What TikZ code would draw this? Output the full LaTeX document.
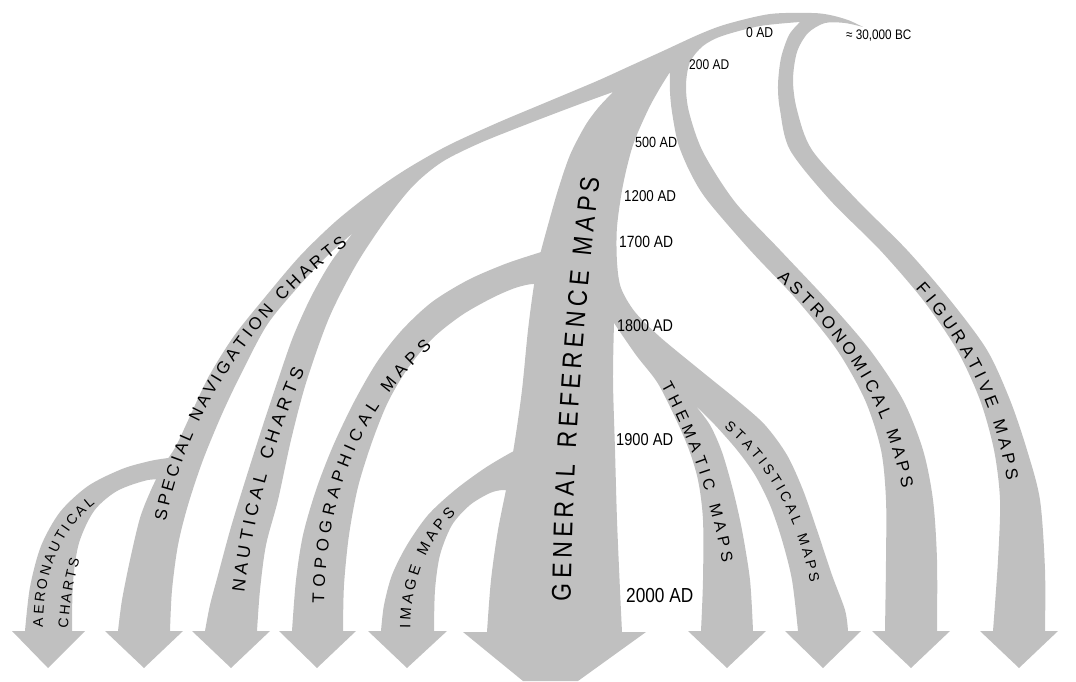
\documentclass[tikz,border=0pt]{standalone}
\usepackage{fontspec}
\setmainfont{Liberation Sans}
\newfontfamily\datefont[FakeStretch=0.85]{Liberation Sans}
\newfontfamily\grmfont[FakeStretch=0.85]{Liberation Sans}
\usetikzlibrary{decorations.text}
\definecolor{bandgray}{RGB}{192,192,192}
\begin{document}
\begin{tikzpicture}[x=1pt,y=-1pt,
  band/.style={fill=bandgray,draw=none},
  datelabel/.style={anchor=west,inner sep=0pt,font=\datefont\fontsize{#1}{#1}\selectfont},
  bandtext/.style={decorate,decoration={text along path,text align=fit to path,raise=#1}}
]
\useasboundingbox (0,0) rectangle (1076,681);

% ---------- main stream: trunk with navigation, nautical, general reference,
% ---------- thematic/statistical, astronomical and figurative branches
\fill[band]
  plot[smooth] coordinates {(863,27) (848,20) (830,15) (812,13) (770,14) (727,24) (700,34) (663,51) (630,66) (597,81) (547,102) (497,123) (447,146) (405,170) (370,194) (335,222) (300,256) (266,296) (234,336) (209,376) (191,414) (176,446) (162,468) (151,490) (140,518) (130,560) (122,600) (118,631)}
  -- (105,631) -- (144,668) -- (183,631) -- (170,631)
  -- plot[smooth] coordinates {(170,631) (172,590) (178,545) (188,505) (203,460) (222,414) (241,374) (267,325) (298,287) (327,256) (353,233)}
  -- plot[smooth] coordinates {(353,233) (331,262) (311,297) (293,337) (278,380) (263,425) (247,475) (231,527) (218,575) (210,605) (205,631)}
  -- (192,631) -- (231,668) -- (270,631) -- (257,631)
  -- plot[smooth] coordinates {(257,631) (260,590) (266,545) (278,500) (291,440) (306,383) (329,318) (356,265) (385,221) (413,186) (442,162) (480,143) (530,123) (580,104) (613,92)}
  -- plot[smooth] coordinates {(613,92) (598,108) (585,126) (570,155) (558,190) (548,225) (540,255) (534,285) (528,330) (522,390) (515,440) (508,480) (498,530) (491,580) (487,632)}
  -- (463,632) -- (523,681) -- (578,681) -- (646,632) -- (622,632)
  -- plot[smooth] coordinates {(622,632) (620,590) (617,520) (615,450) (613,380) (614,323)}
  -- plot[smooth] coordinates {(614,323) (636,355) (657,382) (673,413) (688,447) (698,480) (703,520) (703,580) (701,631)}
  -- (688,631) -- (727,668) -- (766,631) -- (753,631)
  -- plot[smooth] coordinates {(753,631) (750,580) (742,530) (733,490) (722,452) (710,425) (695,405)}
  -- plot[smooth] coordinates {(695,405) (715,425) (737,450) (755,475) (770,505) (782,540) (792,580) (798,631)}
  -- (785,631) -- (823,668) -- (861,631) -- (848,631)
  -- plot[smooth] coordinates {(848,631) (845,610) (832,575) (817,530) (803,490) (787,455) (765,425) (737,400) (700,370) (660,337) (635,312) (621,288) (617,262) (617,227) (623,185) (633,145) (648,110) (660,88) (670,72)}
  -- plot[smooth] coordinates {(670,72) (670,92) (672,112) (678,143) (690,172) (707,200) (750,250) (797,300) (837,350) (865,400) (881,450) (886,500) (886,560) (885,631)}
  -- (872,631) -- (911,668) -- (950,631) -- (937,631)
  -- plot[smooth] coordinates {(937,631) (937,560) (933,500) (923,450) (903,400) (870,350) (827,300) (780,250) (735,202) (703,152) (689,112) (686,85) (690,62) (703,46) (722,36) (760,26) (800,22)}
  -- plot[smooth] coordinates {(800,22) (789,35) (781,58) (778,85) (780,110) (790,150) (830,200) (880,250) (923,300) (957,350) (980,400) (994,450) (1000,500) (998,560) (993,631)}
  -- (980,631) -- (1019,668) -- (1058,631) -- (1045,631)
  -- plot[smooth] coordinates {(1045,631) (1045,570) (1040,500) (1027,450) (1010,400) (987,350) (950,300) (907,250) (857,200) (812,150) (797,110) (793,80) (797,52) (808,33) (825,23) (845,23) (863,27)}
  -- cycle;

% aeronautical charts, leaving the navigation branch
\fill[band]
  plot[smooth] coordinates {(180,456) (168,458) (150,461) (122,469) (88,486) (60,512) (41,546) (30,587) (25,631)}
  -- (12,631) -- (48,668) -- (85,631) -- (72,631)
  -- plot[smooth] coordinates {(72,631) (73,582) (79,543) (94,511) (117,491) (148,480) (170,480)}
  -- cycle;

% topographical maps, leaving the general reference stream
\fill[band]
  plot[smooth] coordinates {(548,250) (538,253) (505,264) (468,280) (432,302) (402,330) (377,362) (354,402) (333,446) (316,490) (303,535) (296,580) (292,631)}
  -- (279,631) -- (317,668) -- (356,631) -- (343,631)
  -- plot[smooth] coordinates {(343,631) (344,585) (349,535) (358,487) (372,442) (388,402) (408,368) (433,338) (462,315) (492,298) (515,288) (532,284) (545,285)}
  -- cycle;

% image maps
\fill[band]
  plot[smooth] coordinates {(522,448) (512,452) (485,468) (455,490) (428,515) (407,545) (392,575) (384,605) (381,631)}
  -- (368,631) -- (407,668) -- (447,631) -- (434,631)
  -- plot[smooth] coordinates {(434,631) (435,590) (440,555) (452,525) (470,505) (490,493) (503,490) (512,492)}
  -- cycle;

% ---------- stream names
\path[bandtext=-6.1pt,decoration={text={|\fontsize{17}{17}\selectfont|SPECIAL NAVIGATION CHARTS}}]
  (160,520) .. controls (178,420) and (246,310) .. (344,240);
\path[bandtext=-5pt,decoration={text={|\fontsize{14}{14}\selectfont|AERONAUTICAL}}]
  (38,627) .. controls (38,570) and (57,527) .. (92,500);
\path[bandtext=-5pt,decoration={text={|\fontsize{14}{14}\selectfont|CHARTS}}]
  (63,628) .. controls (65,600) and (69,577) .. (75,558);
\path[bandtext=-6.4pt,decoration={text={|\fontsize{18}{18}\selectfont|NAUTICAL CHARTS}}]
  (238,592) .. controls (246,520) and (266,440) .. (299,368);
\path[bandtext=-6.1pt,decoration={text={|\fontsize{17}{17}\selectfont|TOPOGRAPHICAL MAPS}}]
  (318,603) .. controls (320,500) and (350,410) .. (428,343);
\path[bandtext=-5.4pt,decoration={text={|\fontsize{15}{15}\selectfont|IMAGE MAPS}}]
  (405,628) .. controls (405,585) and (420,540) .. (452,510);
\path[bandtext=-9.7pt,decoration={text={|\grmfont\fontsize{27}{27}\selectfont|GENERAL REFERENCE MAPS}}]
  (561,601) .. controls (563,450) and (575,300) .. (590,177);
\path[bandtext=-5.7pt,decoration={text={|\fontsize{16}{16}\selectfont|THEMATIC MAPS}}]
  (666,383) .. controls (692,430) and (715,490) .. (728,562);
\path[bandtext=-5pt,decoration={text={|\fontsize{14}{14}\selectfont|STATISTICAL MAPS}}]
  (727,424) .. controls (765,455) and (800,505) .. (815,582);
\path[bandtext=-6.1pt,decoration={text={|\fontsize{17}{17}\selectfont|ASTRONOMICAL MAPS}}]
  (781,274) .. controls (835,322) and (888,385) .. (908,487);
\path[bandtext=-6.1pt,decoration={text={|\fontsize{17}{17}\selectfont|FIGURATIVE MAPS}}]
  (920,285) .. controls (960,330) and (1000,395) .. (1013,480);

% ---------- dates
\node[datelabel=13.8] (bc)   at (846,36)  {≈ 30,000 BC};
\node[datelabel=14.3] (ad0)  at (746,33)  {0 AD};
\node[datelabel=14.1] (ad200) at (689,65) {200 AD};
\node[datelabel=14.8] (ad500) at (635,142) {500 AD};
\node[datelabel=15.7] (ad1200) at (624,196) {1200 AD};
\node[datelabel=16.3] (ad1700) at (619,242) {1700 AD};
\node[datelabel=16.9] (ad1800) at (617,326) {1800 AD};
\node[datelabel=17.2] (ad1900) at (616,440) {1900 AD};
\node[datelabel=20.3] (ad2000) at (626,595) {2000 AD};
\end{tikzpicture}
\end{document}
